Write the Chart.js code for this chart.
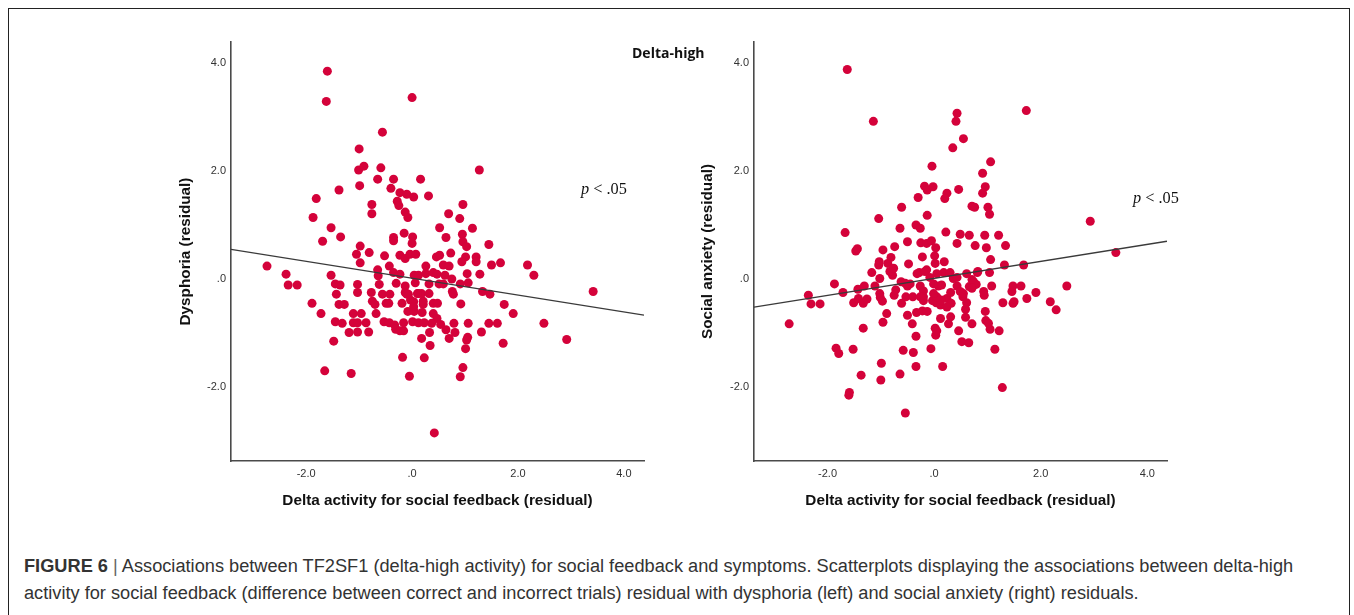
<!DOCTYPE html>
<html>
<head>
<meta charset="utf-8">
<script src="https://cdn.jsdelivr.net/npm/chart.js@4.4.1/dist/chart.umd.min.js"></script>
<style>
  body { margin: 0; background: #fff; width: 1354px; height: 615px; overflow: hidden; position: relative; font-family: "Liberation Sans", Arial, sans-serif; }
  #frame { position: absolute; left: 8px; top: 8px; width: 1342px; height: 620px; border: 1.5px solid #222; border-bottom: none; box-sizing: border-box; }
  canvas { position: absolute; }
  .pval { position: absolute; font-family: "Liberation Serif", "Times New Roman", serif; font-size: 16.3px; color: #111; line-height: 18px; white-space: nowrap; }
  #panel { position: absolute; left: 632px; top: 44px; font-family: "Open Sans", sans-serif; font-weight: bold; font-size: 14px; line-height: 18px; color: #111; white-space: nowrap; }
  #cap { position: absolute; left: 24px; top: 553px; color: #333; line-height: 27px; white-space: nowrap; font-size: 18px; font-family: "Liberation Sans Narrow", "Liberation Sans", Arial, sans-serif; }
  #cap .bar { color: #666; }
</style>
</head>
<body>
<div id="frame"></div>
<canvas id="left" width="510" height="490" style="left:150px; top:30px;"></canvas>
<canvas id="right" width="510" height="490" style="left:672px; top:30px;"></canvas>
<div id="panel">Delta-high</div>
<div class="pval" style="left:581px; top:180px;"><i>p</i> &lt; .05</div>
<div class="pval" style="left:1133px; top:189px;"><i>p</i> &lt; .05</div>
<div id="cap"><span id="cap1"><b>FIGURE 6</b> <span class="bar">|</span> Associations between TF2SF1 (delta-high activity) for social feedback and symptoms. Scatterplots displaying the associations between delta-high</span><br>activity for social feedback (difference between correct and incorrect trials) residual with dysphoria (left) and social anxiety (right) residuals.</div>

<script>
// axis ranges and ticks (same for both panels)
const xRangeLeft = [-3.42, 4.38];
const xRangeRight = [-3.38, 4.37];
const yRange = [-3.37, 4.39];
const tickStep = 2;

// Dysphoria (residual) vs delta activity (residual), [x, y]
const dysphoriaPoints = [
  [-1.60,3.85],[-1.62,3.29],[0.00,3.36],[-0.56,2.72],[-1.00,2.41],[-1.01,2.02],[-0.91,2.09],[-0.59,2.06],
  [-0.99,1.73],[-0.65,1.85],[-0.35,1.85],[0.16,1.85],[1.27,2.02],[-1.81,1.49],[-1.38,1.65],[-1.87,1.14],
  [-1.53,0.95],[-1.69,0.70],[-1.35,0.78],[-0.76,1.38],[-0.76,1.21],[-0.40,1.68],[-0.23,1.60],[-0.10,1.57],
  [0.03,1.52],[0.31,1.54],[-0.28,1.44],[-0.25,1.36],[-0.13,1.24],[-0.08,1.14],[-0.15,0.85],[-0.35,0.77],
  [-0.35,0.71],[0.01,0.78],[0.00,0.66],[0.69,1.21],[0.90,1.12],[0.96,1.38],[0.52,0.95],[0.64,0.77],
  [1.14,0.94],[0.95,0.83],[0.96,0.69],[1.03,0.60],[1.45,0.64],[-0.98,0.61],[-1.05,0.46],[-0.81,0.49],
  [-0.52,0.43],[-0.23,0.44],[-0.13,0.38],[-0.04,0.46],[0.07,0.46],[0.46,0.41],[0.52,0.44],[0.73,0.48],
  [1.21,0.41],[1.01,0.41],
  [-2.74,0.24],[-0.98,0.30],[-0.43,0.24],[0.26,0.24],[0.59,0.26],[0.70,0.24],[0.94,0.32],[1.21,0.32],
  [1.50,0.26],[1.67,0.30],[2.18,0.26],[2.30,0.07],[-2.38,0.09],[-2.34,-0.11],[-2.17,-0.11],[-1.53,0.07],
  [-1.45,-0.09],[-1.36,-0.11],[-1.43,-0.28],[-1.89,-0.45],[-1.72,-0.64],[-1.38,-0.47],[-1.28,-0.47],[-1.45,-0.79],
  [-1.32,-0.82],[-1.48,-1.15],[-1.19,-0.99],[-1.11,-0.64],[-0.96,-0.64],[-1.11,-0.81],[-1.03,-0.81],[-0.87,-0.81],
  [-1.03,-0.98],[-0.82,-0.98],[-1.03,-0.10],[-1.03,-0.25],[-0.77,-0.25],[-0.75,-0.41],[-0.70,-0.47],[-0.68,-0.64],
  [-0.65,0.17],[-0.64,0.06],[-0.62,-0.10],[-0.56,-0.28],[-0.42,-0.28],[-0.49,-0.45],[-0.44,-0.45],[-0.53,-0.79],
  [-0.43,-0.81],[-0.33,-0.85],[-0.31,-0.93],[-0.23,-0.96],[-0.16,-0.96],[-0.16,-0.81],[-0.35,0.12],[-0.23,0.09],
  [-0.30,-0.08],[-0.13,-0.13],[-0.13,-0.25],[-0.07,-0.28],[-0.19,-0.45],[-0.03,-0.39],[0.03,-0.42],[-0.08,-0.60],
  [0.04,-0.60],[0.01,-0.79],[0.12,-0.81],[0.19,-0.62],[0.21,-0.47],[0.21,-0.41],[0.12,-0.27],[0.18,-0.27],
  [0.32,-0.27],[0.04,0.07],[0.12,0.07],[0.26,0.10],[0.06,-0.07],[0.32,-0.09],[0.40,0.12],[0.47,0.09],
  [0.62,0.07],[0.51,-0.09],[0.59,-0.09],[0.75,0.00],[0.76,-0.23],[0.78,-0.28],[0.91,-0.09],[1.04,0.10],
  [1.06,-0.07],[1.28,0.09],[1.33,-0.23],[1.47,-0.28],[0.40,-0.45],[0.48,-0.45],[0.40,-0.64],[0.47,-0.73],
  [0.54,-0.84],[0.37,-0.82],[0.23,-0.81],[0.33,-0.99],[0.18,-1.10],[0.34,-1.23],[0.64,-0.94],[0.70,-1.10],
  [0.79,-0.82],[0.81,-0.99],[0.92,-0.46],[1.06,-0.82],[1.05,-1.08],[1.03,-1.13],[1.01,-1.29],[1.31,-0.98],
  [1.45,-0.82],[1.61,-0.82],[1.74,-0.47],[1.91,-0.64],[1.72,-1.19],[2.49,-0.82],[2.92,-1.12],[3.42,-0.23],
  [-0.18,-1.45],[0.23,-1.46],[-1.65,-1.70],[-1.15,-1.75],[-0.05,-1.80],[0.96,-1.64],[0.91,-1.81],[0.42,-2.85],
  [0.03,-0.51],[-0.10,-0.28],[0.10,-0.27]
];

// Social anxiety (residual) vs delta activity (residual), [x, y]
const anxietyPoints = [
  [-1.63,3.88],[-1.14,2.92],[0.43,3.07],[0.41,2.92],[1.73,3.12],[0.55,2.60],[0.35,2.43],[-0.04,2.09],
  [1.06,2.17],[0.91,1.96],[0.96,1.71],[0.91,1.59],[-0.18,1.72],[-0.13,1.65],[-0.02,1.71],[-0.30,1.51],
  [0.24,1.59],[0.20,1.49],[0.46,1.66],[-0.61,1.33],[-1.04,1.12],[-0.13,1.18],[0.71,1.35],[0.76,1.33],
  [1.01,1.33],[1.04,1.20],[2.93,1.07],[-1.67,0.86],[-0.64,0.94],[-0.34,1.00],[-0.26,0.94],[0.22,0.87],
  [0.49,0.83],[0.66,0.81],[0.95,0.81],[1.21,0.81],[1.34,0.62],[0.98,0.58],[0.77,0.62],[0.43,0.66],
  [-1.47,0.52],[-1.44,0.56],[-0.96,0.54],[-0.74,0.60],[-0.50,0.69],[-0.25,0.67],[-0.14,0.66],[-0.05,0.71],
  [0.03,0.58],[-0.22,0.41],[0.01,0.43],[-0.81,0.40],[1.06,0.36],[3.41,0.49],
  [-1.04,0.26],[-1.03,0.32],[-0.87,0.29],[-0.48,0.28],[0.02,0.29],[0.19,0.32],[1.32,0.26],[1.68,0.26],
  [1.04,0.12],[0.81,0.12],[-1.17,0.12],[-1.02,0.01],[-1.11,-0.13],[-1.87,-0.09],[-1.71,-0.25],[-2.36,-0.30],
  [-2.31,-0.46],[-2.14,-0.46],[-2.72,-0.83],[-1.51,-0.44],[-1.43,-0.19],[-1.31,-0.13],[-1.42,-0.36],[-1.33,-0.45],
  [-1.26,-0.37],[-1.33,-0.91],[-1.02,-0.27],[-1.01,-0.34],[-0.97,-0.41],[-0.89,-0.64],[-0.96,-0.80],[-1.84,-1.28],
  [-1.79,-1.38],[-1.52,-1.30],[-0.99,-1.56],[-1.37,-1.78],[-1.00,-1.87],[-1.59,-2.10],[-1.60,-2.15],[-0.64,-1.76],
  [-0.58,-1.32],[-0.39,-1.36],[-0.34,-1.62],[-0.06,-1.29],[0.16,-1.62],[-0.54,-2.48],[1.28,-2.01],[1.14,-1.30],
  [1.22,-0.96],[1.05,-0.93],[0.97,-0.77],[1.02,-0.82],[0.96,-0.60],[0.71,-0.83],[0.65,-1.18],[0.52,-1.16],
  [0.46,-0.96],[0.59,-0.71],[0.59,-0.56],[0.27,-0.83],[0.31,-0.70],[0.12,-0.73],[0.02,-0.91],[0.03,-1.04],
  [0.05,-0.96],[-0.34,-1.06],[-0.41,-0.83],[-0.50,-0.67],[-0.33,-0.62],[-0.22,-0.59],[-0.13,-0.60],[-0.61,-0.45],
  [-0.75,-0.30],[-0.72,-0.20],[-0.78,0.07],[-0.62,-0.05],[-0.50,-0.13],[-0.45,-0.09],[-0.53,-0.33],[-0.40,-0.33],
  [-0.26,-0.13],[-0.20,-0.22],[-0.20,-0.33],[-0.20,-0.40],[-0.28,0.12],[-0.32,0.10],[-0.14,0.17],[-0.08,0.03],
  [-0.01,-0.09],[0.08,-0.13],[0.14,-0.11],[-0.03,-0.40],[0.04,-0.44],[0.12,-0.48],[0.24,-0.36],[0.31,-0.25],
  [0.43,-0.13],[0.49,-0.23],[0.54,-0.33],[0.61,-0.44],[0.66,-0.14],[0.74,-0.05],[0.79,-0.10],[0.71,-0.01],
  [0.93,-0.23],[0.94,-0.30],[1.08,-0.13],[1.29,-0.44],[1.48,-0.45],[1.50,-0.42],[1.46,-0.23],[1.48,-0.13],
  [1.63,-0.13],[1.74,-0.36],[1.91,-0.25],[2.18,-0.42],[2.29,-0.57],[2.49,-0.13],[0.18,0.12],[0.30,0.12],
  [-0.83,0.14],[-0.54,-0.08],[-0.17,0.14],[0.05,0.10],[0.36,0.01],[-0.26,-0.33],[0.55,-0.27],[0.32,-0.45],
  [0.24,-0.52],[0.13,-0.39],[0.05,-0.33],[-0.01,-0.27],[0.71,-0.17],[-0.76,0.20],[0.43,0.03],[0.61,0.10],
  [0.82,0.14]
];

// fit lines, end points at the axis limits
const dysphoriaFitX = [-3.42, 4.38];
const dysphoriaFitY = [0.55, -0.67];
const anxietyFitX = [-3.38, 4.37];
const anxietyFitY = [-0.52, 0.70];

const dotColor = '#d4023a';
const tickFont = { family: '"Liberation Sans", Arial, sans-serif', size: 11 };
const titleFont = { family: '"Liberation Sans", Arial, sans-serif', size: 15.3, weight: 'bold' };

// SPSS style labels: 4.0, 2.0, .0, -2.0
function spssLabel(v) {
    return v === 0 ? '.0' : v.toFixed(1);
}

function makeChart(id, points, fitX, fitY, xRange, yTitle, yAxisWidth, padRight) {
    new Chart(document.getElementById(id), {
        type: 'scatter',
        data: {
            datasets: [
                {
                    type: 'line',
                    data: fitX.map((x, i) => ({ x: x, y: fitY[i] })),
                    borderColor: '#3a3a3a',
                    borderWidth: 1.3,
                    pointRadius: 0,
                    order: 0,
                },
                {
                    data: points.map(p => ({ x: p[0], y: p[1] })),
                    backgroundColor: dotColor,
                    borderWidth: 0,
                    pointRadius: 4.5,
                    order: 1,
                },
            ],
        },
        options: {
            responsive: false,
            animation: false,
            devicePixelRatio: 1,
            layout: { padding: { top: 12, right: padRight, left: 0, bottom: 0 } },
            plugins: { legend: { display: false }, tooltip: { enabled: false } },
            scales: {
                x: {
                    type: 'linear',
                    min: xRange[0],
                    max: xRange[1],
                    grid: { display: false, drawTicks: false },
                    border: { display: true, color: '#4a4a4a', width: 1.6 },
                    ticks: { stepSize: tickStep, includeBounds: false, padding: 6, color: '#333', font: tickFont, callback: spssLabel },
                    title: { display: true, text: 'Delta activity for social feedback (residual)', color: '#111', font: titleFont, padding: { top: 0, bottom: 9.8 } },
                    afterFit: s => { s.height = 59; },
                },
                y: {
                    type: 'linear',
                    min: yRange[0],
                    max: yRange[1],
                    grid: { display: false, drawTicks: false },
                    border: { display: true, color: '#4a4a4a', width: 1.6 },
                    ticks: { stepSize: tickStep, includeBounds: false, padding: 5, color: '#333', font: tickFont, callback: spssLabel },
                    title: { display: true, text: yTitle, color: '#111', font: titleFont, padding: { top: 26.8, bottom: 0 } },
                    afterFit: s => { s.width = yAxisWidth; },
                },
            },
        },
    });
}

makeChart('left', dysphoriaPoints, dysphoriaFitX, dysphoriaFitY, xRangeLeft, 'Dysphoria (residual)', 81, 16);
makeChart('right', anxietyPoints, anxietyFitX, anxietyFitY, xRangeRight, 'Social anxiety (residual)', 82, 15);

// fit the caption's first line to the width seen in the figure
const cap = document.getElementById('cap');
const firstLine = document.getElementById('cap1');
const w = firstLine.getBoundingClientRect().width;
cap.style.fontSize = (18 * 1270 / w) + 'px';
</script>
</body>
</html>
